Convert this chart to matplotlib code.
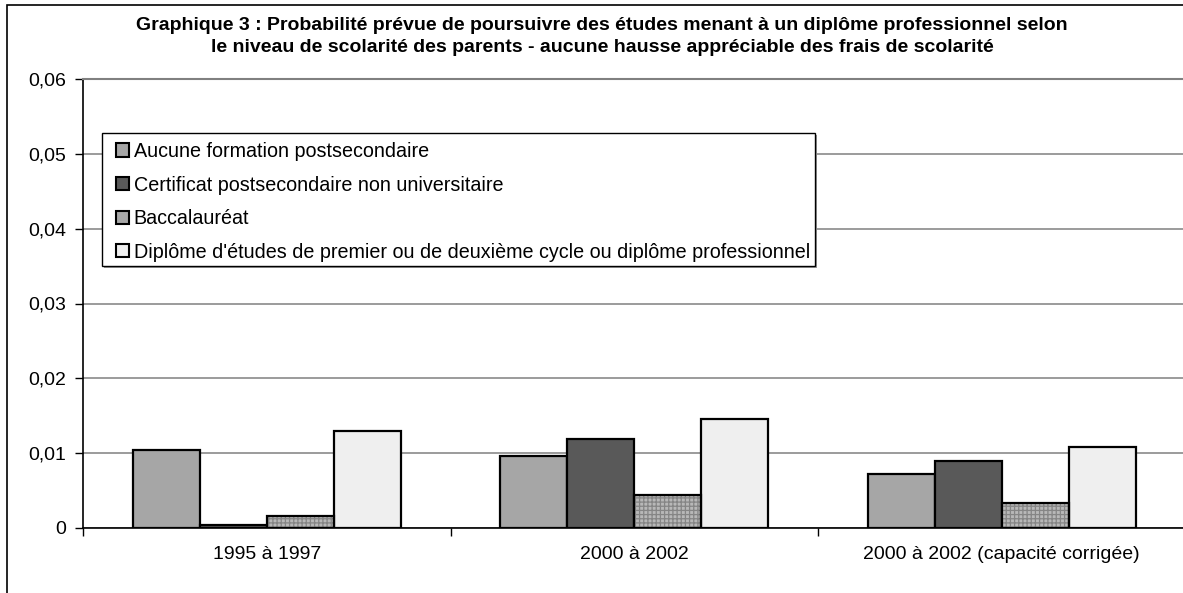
import matplotlib
matplotlib.use("Agg")
import matplotlib.pyplot as plt
import matplotlib.patches as mpatches
from matplotlib.ticker import FixedLocator, FuncFormatter
import numpy as np

plt.rcParams['font.family'] = ['Liberation Sans', 'DejaVu Sans']
plt.rcParams['hatch.linewidth'] = 0.9

# Données
periodes = ["1995 à 1997", "2000 à 2002", "2000 à 2002 (capacité corrigée)"]
series = [
    "Aucune formation postsecondaire",
    "Certificat postsecondaire non universitaire",
    "Baccalauréat",
    "Diplôme d'études de premier ou de deuxième cycle ou diplôme professionnel",
]
aucune = [0.0104, 0.0096, 0.0072]
certificat = [0.0004, 0.0119, 0.0089]
bacc = [0.0016, 0.0044, 0.0033]
diplome = [0.0129, 0.0145, 0.0108]
valeurs = [aucune, certificat, bacc, diplome]
couleurs = ["#a6a6a6", "#595959", "#b8b8b8", "#efefef"]

titre = ("Graphique 3 : Probabilité prévue de poursuivre des études menant à un diplôme professionnel selon\n"
         "le niveau de scolarité des parents - aucune hausse appréciable des frais de scolarité")

W, H = 1183, 593
fig = plt.figure(figsize=(W / 100, H / 100), dpi=100)
ax = fig.add_axes([83.3 / W, 1 - 528 / H, 1102 / W, 449 / H])

x = np.arange(len(periodes))
w = 0.1825
handles = []
for i, (vals, col) in enumerate(zip(valeurs, couleurs)):
    pos = x + (i - 1.5) * w
    if i == 2:
        # texture grise du baccalauréat
        ax.bar(pos, vals, w, color=col, edgecolor="#858585", linewidth=0,
               hatch="++++", zorder=3)
        ax.bar(pos, vals, w, facecolor="none", edgecolor="black",
               linewidth=1.6, zorder=4)
        handles.append(mpatches.Patch(facecolor="#a8a8a8", edgecolor="black",
                                      linewidth=1.5, label=series[i]))
    else:
        ax.bar(pos, vals, w, color=col, edgecolor="black", linewidth=1.6, zorder=3)
        handles.append(mpatches.Patch(facecolor=col, edgecolor="black",
                                      linewidth=1.5, label=series[i]))

ax.set_xlim(-0.5, 2.5)
ax.set_ylim(0, 0.06)
ax.set_yticks([0, 0.01, 0.02, 0.03, 0.04, 0.05, 0.06])
ax.yaxis.set_major_formatter(FuncFormatter(
    lambda v, p: "0" if abs(v) < 1e-9 else f"{v:.2f}".replace(".", ",")))
ax.grid(axis="y", color="#808080", linewidth=1.1)
ax.set_axisbelow(True)

# ticks aux frontières, étiquettes au centre
ax.xaxis.set_major_locator(FixedLocator([-0.5, 0.5, 1.5, 2.5]))
ax.xaxis.set_major_formatter(FuncFormatter(lambda v, p: ""))
ax.xaxis.set_minor_locator(FixedLocator(x))
ax.set_xticklabels(periodes, minor=True)
ax.tick_params(axis="x", which="major", length=6, width=1, direction="out")
ax.tick_params(axis="x", which="minor", length=0, pad=13, labelsize=14)
ax.tick_params(axis="y", length=6, width=1, direction="out", pad=6.5, labelsize=14)

ax.spines["right"].set_visible(False)
ax.spines["top"].set_color("#808080")
ax.spines["top"].set_linewidth(1.5)
ax.spines["left"].set_linewidth(1.2)
ax.spines["bottom"].set_linewidth(1.2)

# cadre de la légende avec ombre
lx0, ly0, lx1, ly1 = 102, 133, 815, 266
ax.add_patch(mpatches.Rectangle(((lx0 + 2) / W, 1 - (ly1 + 2.5) / H), (lx1 - lx0) / W,
                                (ly1 - ly0) / H, transform=fig.transFigure,
                                facecolor="#9a9a9a", edgecolor="none",
                                clip_on=False, zorder=4.4))
ax.add_patch(mpatches.Rectangle((lx0 / W, 1 - ly1 / H), (lx1 - lx0) / W,
                                (ly1 - ly0) / H, transform=fig.transFigure,
                                facecolor="white", edgecolor="black", linewidth=1.0,
                                clip_on=False, zorder=4.5))

leg = ax.legend(handles=handles, loc="upper left",
                bbox_to_anchor=(116 / W, 1 - 142 / H), bbox_transform=fig.transFigure,
                borderaxespad=0, borderpad=0, fontsize=14.2, handlelength=0.65,
                handleheight=0.65, handletextpad=0.25, labelspacing=0.74,
                frameon=False)

fig.text(0.509, 1 - 17 / H, titre, ha="center", va="top", fontsize=14,
         fontweight="bold", linespacing=1.37)

# cadre du graphique
fig.add_artist(mpatches.Rectangle((7 / W, -0.1), 1.2, 1.1 - 5 / H,
                                  transform=fig.transFigure, fill=False,
                                  edgecolor="black", linewidth=1.2))

fig.savefig("out.png", dpi=100)
